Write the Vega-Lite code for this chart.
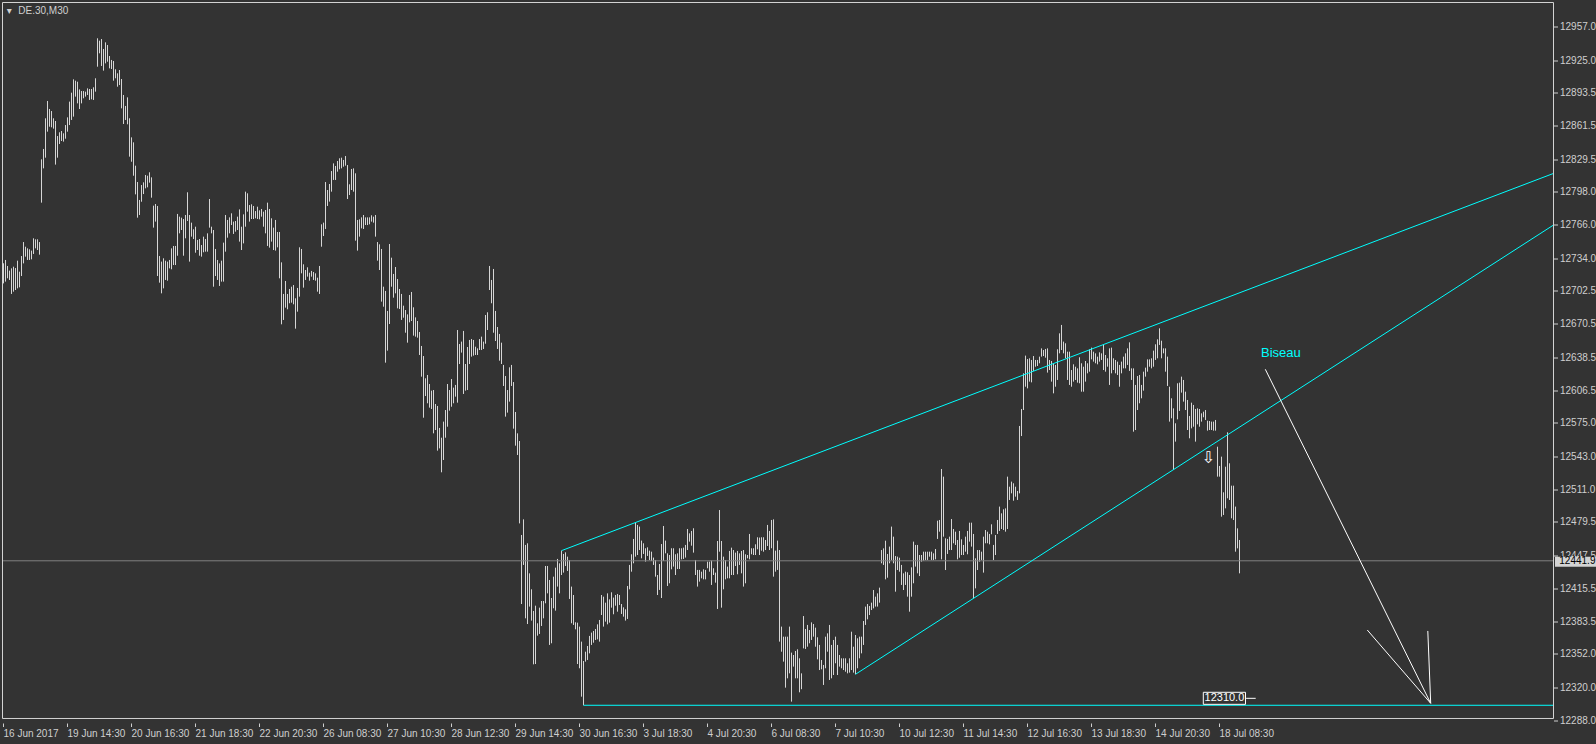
{
"$schema":"https://vega.github.io/schema/vega-lite/v6.json",
"width":1551,"height":720,
"autosize":"none",
"padding":{"left":2.5,"top":2.5,"right":42.5,"bottom":21.5},
"background":"#333333",
"view":{"stroke":null},
"config":{"font":"Liberation Sans","axis":{"labelOverlap":false,"labelFlush":false,"labelBound":false,"grid":false,"domain":false,"title":null,"labelFont":"Liberation Sans","labelFontSize":10,"labelColor":"#cfcfcf","tickColor":"#cfcfcf","tickWidth":1,"tickCount":100}},
"datasets":{
"bars":[
{"i":0,"h":12729,"l":12709.6},{"i":1,"h":12732.2,"l":12711.3},{"i":2,"h":12726.4,"l":12714.5},{"i":3,"h":12721.9,"l":12712.9},{"i":4,"h":12724.1,"l":12699.4},{"i":5,"h":12725.7,"l":12701.6},{"i":6,"h":12724.4,"l":12703.2},{"i":7,"h":12731.5,"l":12704.8},{"i":8,"h":12720.9,"l":12705.8},{"i":9,"h":12736,"l":12716.7},
{"i":10,"h":12749.5,"l":12728.9},{"i":11,"h":12745,"l":12735.4},{"i":12,"h":12743.4,"l":12732.2},{"i":13,"h":12742.5,"l":12732.2},{"i":14,"h":12741.2,"l":12732.8},{"i":15,"h":12753.1,"l":12738},{"i":16,"h":12752.1,"l":12743.4},{"i":17,"h":12752.1,"l":12741.8},{"i":18,"h":12749.5,"l":12737.3},{"i":19,"h":12829.3,"l":12787.5},
{"i":20,"h":12839.3,"l":12820.6},{"i":21,"h":12868.9,"l":12830.9},{"i":22,"h":12885.6,"l":12856},{"i":23,"h":12877.9,"l":12860.8},{"i":24,"h":12875.9,"l":12860.2},{"i":25,"h":12868.9,"l":12858.9},{"i":26,"h":12866.3,"l":12824.2},{"i":27,"h":12851.8,"l":12830.9},{"i":28,"h":12855.4,"l":12844.1},{"i":29,"h":12856.6,"l":12847},
{"i":30,"h":12854.4,"l":12846.4},{"i":31,"h":12862.4,"l":12849.2},{"i":32,"h":12869.8,"l":12856},{"i":33,"h":12885,"l":12862.4},{"i":34,"h":12893.6,"l":12867.3},{"i":35,"h":12906.5,"l":12870.5},{"i":36,"h":12905.2,"l":12889.8},{"i":37,"h":12904.2,"l":12883.3},{"i":38,"h":12896.8,"l":12877.9},{"i":39,"h":12895.2,"l":12883.3},
{"i":40,"h":12895.2,"l":12888.2},{"i":41,"h":12894.6,"l":12889.8},{"i":42,"h":12897.8,"l":12891.4},{"i":43,"h":12897.2,"l":12886.6},{"i":44,"h":12897.2,"l":12887.2},{"i":45,"h":12898.8,"l":12886.6},{"i":46,"h":12907.5,"l":12894.6},{"i":47,"h":12946.1,"l":12918.7},{"i":48,"h":12943.8,"l":12931.6},{"i":49,"h":12945.4,"l":12919.4},
{"i":50,"h":12935.8,"l":12914.9},{"i":51,"h":12942.2,"l":12921.9},{"i":52,"h":12939.6,"l":12923.5},{"i":53,"h":12929,"l":12917.1},{"i":54,"h":12925.2,"l":12916.5},{"i":55,"h":12924.2,"l":12905.2},{"i":56,"h":12916.2,"l":12907.5},{"i":57,"h":12912.3,"l":12899.4},{"i":58,"h":12915.5,"l":12901},{"i":59,"h":12906.8,"l":12878.5},
{"i":60,"h":12891.4,"l":12863.4},{"i":61,"h":12880.8,"l":12867.3},{"i":62,"h":12889.1,"l":12863.1},{"i":63,"h":12868.9,"l":12831.9},{"i":64,"h":12850.5,"l":12827},{"i":65,"h":12845.7,"l":12813.5},{"i":66,"h":12823.2,"l":12795.5},{"i":67,"h":12807.4,"l":12773},{"i":68,"h":12790.1,"l":12775.6},{"i":69,"h":12804.5,"l":12788.4},
{"i":70,"h":12807.1,"l":12795.8},{"i":71,"h":12814.2,"l":12801.3},{"i":72,"h":12813.5,"l":12802.3},{"i":73,"h":12816.8,"l":12806.8},{"i":74,"h":12811.9,"l":12792.3},{"i":75,"h":12784.6,"l":12763.4},{"i":76,"h":12786.2,"l":12769.2},{"i":77,"h":12784.3,"l":12716.7},{"i":78,"h":12736,"l":12710.3},{"i":79,"h":12730.6,"l":12700},
{"i":80,"h":12733.8,"l":12704.8},{"i":81,"h":12731.5,"l":12712.9},{"i":82,"h":12730.6,"l":12712.2},{"i":83,"h":12732.2,"l":12724.1},{"i":84,"h":12743.4,"l":12723.2},{"i":85,"h":12745.7,"l":12727.3},{"i":86,"h":12745.7,"l":12727.3},{"i":87,"h":12776.6,"l":12736.3},{"i":88,"h":12774,"l":12757.9},{"i":89,"h":12773,"l":12761.1},
{"i":90,"h":12771.7,"l":12736.3},{"i":91,"h":12775.6,"l":12753.1},{"i":92,"h":12797.5,"l":12769.8},{"i":93,"h":12775.6,"l":12730.6},{"i":94,"h":12768.2,"l":12754.7},{"i":95,"h":12761.8,"l":12752.4},{"i":96,"h":12764.3,"l":12739.2},{"i":97,"h":12751.5,"l":12741.8},{"i":98,"h":12752.4,"l":12736.3},{"i":99,"h":12746.6,"l":12735.4},
{"i":100,"h":12754.7,"l":12739.6},{"i":101,"h":12752.4,"l":12740.2},{"i":102,"h":12757.9,"l":12740.2},{"i":103,"h":12791,"l":12763.4},{"i":104,"h":12764.3,"l":12757.9},{"i":105,"h":12761.1,"l":12706.4},{"i":106,"h":12742.8,"l":12716.7},{"i":107,"h":12732.2,"l":12712.9},{"i":108,"h":12728.9,"l":12707.1},{"i":109,"h":12731.5,"l":12711.3},
{"i":110,"h":12748.9,"l":12711.3},{"i":111,"h":12775.6,"l":12740.2},{"i":112,"h":12770.8,"l":12753.7},{"i":113,"h":12773.3,"l":12757.9},{"i":114,"h":12777.2,"l":12765.9},{"i":115,"h":12769.2,"l":12757.3},{"i":116,"h":12769.8,"l":12759.5},{"i":117,"h":12774,"l":12761.1},{"i":118,"h":12781,"l":12749.9},{"i":119,"h":12764.3,"l":12741.8},
{"i":120,"h":12776.2,"l":12748.2},{"i":121,"h":12798.1,"l":12764.3},{"i":122,"h":12796.5,"l":12778.8},{"i":123,"h":12785.2,"l":12769.2},{"i":124,"h":12785.9,"l":12771.7},{"i":125,"h":12784.3,"l":12771.7},{"i":126,"h":12779.4,"l":12772.4},{"i":127,"h":12783.6,"l":12771.7},{"i":128,"h":12780.1,"l":12771.4},{"i":129,"h":12781.4,"l":12774},
{"i":130,"h":12778.8,"l":12764.3},{"i":131,"h":12780.4,"l":12757.9},{"i":132,"h":12787.5,"l":12745.7},{"i":133,"h":12781.4,"l":12744.1},{"i":134,"h":12772.4,"l":12749.9},{"i":135,"h":12763.4,"l":12741.8},{"i":136,"h":12770.8,"l":12741.2},{"i":137,"h":12759.2,"l":12744.4},{"i":138,"h":12759.2,"l":12714.5},{"i":139,"h":12729.9,"l":12670.1},
{"i":140,"h":12699.4,"l":12674.3},{"i":141,"h":12711.9,"l":12686.2},{"i":142,"h":12699.4,"l":12684.6},{"i":143,"h":12704.2,"l":12690.4},{"i":144,"h":12706.4,"l":12691},{"i":145,"h":12708,"l":12689.4},{"i":146,"h":12695.2,"l":12665.9},{"i":147,"h":12705.2,"l":12682.3},{"i":148,"h":12744.4,"l":12696.8},{"i":149,"h":12742.8,"l":12719.3},
{"i":150,"h":12728,"l":12705.5},{"i":151,"h":12722.5,"l":12712.9},{"i":152,"h":12725.1,"l":12716.1},{"i":153,"h":12719.9,"l":12712.2},{"i":154,"h":12721.6,"l":12716.1},{"i":155,"h":12720.6,"l":12712.9},{"i":156,"h":12719.3,"l":12712.2},{"i":157,"h":12715.1,"l":12701.6},{"i":158,"h":12726.4,"l":12699.4},{"i":159,"h":12766.6,"l":12745},
{"i":160,"h":12768.2,"l":12755.3},{"i":161,"h":12807.4,"l":12762.1},{"i":162,"h":12799.7,"l":12784.3},{"i":163,"h":12805.5,"l":12788.5},{"i":164,"h":12818,"l":12798.1},{"i":165,"h":12825.4,"l":12809.4},{"i":166,"h":12822.9,"l":12809.4},{"i":167,"h":12827.7,"l":12817.4},{"i":168,"h":12830.3,"l":12819.7},{"i":169,"h":12830.9,"l":12820.6},
{"i":170,"h":12828.7,"l":12822.2},{"i":171,"h":12832.5,"l":12823.2},{"i":172,"h":12823.8,"l":12791},{"i":173,"h":12805.2,"l":12794.9},{"i":174,"h":12820,"l":12799.7},{"i":175,"h":12820.6,"l":12798.1},{"i":176,"h":12815.8,"l":12750.8},{"i":177,"h":12770.8,"l":12741.2},{"i":178,"h":12771.4,"l":12754.7},{"i":179,"h":12773.3,"l":12762.7},
{"i":180,"h":12775.6,"l":12762.1},{"i":181,"h":12773.3,"l":12765.9},{"i":182,"h":12773.3,"l":12765.9},{"i":183,"h":12773.3,"l":12766.6},{"i":184,"h":12775.3,"l":12769.2},{"i":185,"h":12774,"l":12768.2},{"i":186,"h":12775.6,"l":12754.7},{"i":187,"h":12749.5,"l":12731.5},{"i":188,"h":12747.3,"l":12722.5},{"i":189,"h":12742.8,"l":12692},
{"i":190,"h":12706.4,"l":12687.1},{"i":191,"h":12702.3,"l":12633.1},{"i":192,"h":12683,"l":12644.7},{"i":193,"h":12747.6,"l":12670.4},{"i":194,"h":12734.4,"l":12706.4},{"i":195,"h":12718.7,"l":12695.8},{"i":196,"h":12725.4,"l":12700},{"i":197,"h":12713.8,"l":12685.5},{"i":198,"h":12704.2,"l":12684.9},{"i":199,"h":12699.4,"l":12674.3},
{"i":200,"h":12688.1,"l":12676.5},{"i":201,"h":12683.9,"l":12662},{"i":202,"h":12679.7,"l":12652.4},{"i":203,"h":12698.4,"l":12672},{"i":204,"h":12701.3,"l":12673.3},{"i":205,"h":12686.5,"l":12659.2},{"i":206,"h":12676.8,"l":12658.2},{"i":207,"h":12673.3,"l":12657.2},{"i":208,"h":12662.7,"l":12640.5},{"i":209,"h":12649.2,"l":12619.6},
{"i":210,"h":12639.5,"l":12580},{"i":211,"h":12618,"l":12600.9},{"i":212,"h":12621.2,"l":12593.9},{"i":213,"h":12612.5,"l":12589.7},{"i":214,"h":12606.1,"l":12588.4},{"i":215,"h":12606.7,"l":12564.9},{"i":216,"h":12593.2,"l":12568.1},{"i":217,"h":12591.3,"l":12548.2},{"i":218,"h":12570.1,"l":12550.4},{"i":219,"h":12560.7,"l":12527.3},
{"i":220,"h":12576.2,"l":12539.2},{"i":221,"h":12587.4,"l":12560.7},{"i":222,"h":12612.5,"l":12571.3},{"i":223,"h":12606.7,"l":12586.8},{"i":224,"h":12617.3,"l":12590.6},{"i":225,"h":12609,"l":12593.9},{"i":226,"h":12611.6,"l":12600.3},{"i":227,"h":12664.6,"l":12594.5},{"i":228,"h":12651.1,"l":12631.8},{"i":229,"h":12653.4,"l":12642.8},
{"i":230,"h":12663.7,"l":12602.9},{"i":231,"h":12631.8,"l":12606.1},{"i":232,"h":12648.2,"l":12606.7},{"i":233,"h":12655,"l":12631.8},{"i":234,"h":12655.9,"l":12638.9},{"i":235,"h":12655,"l":12639.9},{"i":236,"h":12648.5,"l":12640.5},{"i":237,"h":12646.9,"l":12640.5},{"i":238,"h":12655.9,"l":12645.3},{"i":239,"h":12658.2,"l":12645.3},
{"i":240,"h":12653.4,"l":12646.3},{"i":241,"h":12679.1,"l":12651.4},{"i":242,"h":12681.7,"l":12664.6},{"i":243,"h":12726.4,"l":12703.2},{"i":244,"h":12712.9,"l":12690.4},{"i":245,"h":12723.5,"l":12662},{"i":246,"h":12683,"l":12654},{"i":247,"h":12667.5,"l":12646.3},{"i":248,"h":12660.8,"l":12635},{"i":249,"h":12652.4,"l":12631.8},
{"i":250,"h":12630.9,"l":12610.6},{"i":251,"h":12620.2,"l":12581},{"i":252,"h":12606.7,"l":12584.9},{"i":253,"h":12628.6,"l":12595.5},{"i":254,"h":12630.9,"l":12610.6},{"i":255,"h":12614.4,"l":12569.4},{"i":256,"h":12585.5,"l":12553},{"i":257,"h":12564.9,"l":12544},{"i":258,"h":12557.5,"l":12478},{"i":259,"h":12466.8,"l":12400.2},
{"i":260,"h":12481.9,"l":12437.9},{"i":261,"h":12457.2,"l":12386.4},{"i":262,"h":12458.8,"l":12380.9},{"i":263,"h":12429.8,"l":12397.7},{"i":264,"h":12414.4,"l":12384.2},{"i":265,"h":12393.5,"l":12342},{"i":266,"h":12398.6,"l":12342.3},{"i":267,"h":12381.6,"l":12369.7},{"i":268,"h":12396.7,"l":12371.3},{"i":269,"h":12403.1,"l":12379},
{"i":270,"h":12403.1,"l":12386.4},{"i":271,"h":12436.9,"l":12400.9},{"i":272,"h":12436.9,"l":12410.5},{"i":273,"h":12423.4,"l":12360.7},{"i":274,"h":12406,"l":12362.3},{"i":275,"h":12426.6,"l":12396.1},{"i":276,"h":12435.3,"l":12393.8},{"i":277,"h":12443.7,"l":12417},{"i":278,"h":12439.5,"l":12410.5},{"i":279,"h":12451.7,"l":12428.2},
{"i":280,"h":12448.5,"l":12430.5},{"i":281,"h":12450.1,"l":12436.9},{"i":282,"h":12445.9,"l":12432.1},{"i":283,"h":12442.7,"l":12405.1},{"i":284,"h":12417,"l":12381.6},{"i":285,"h":12408.9,"l":12380},{"i":286,"h":12382.6,"l":12375.8},{"i":287,"h":12382.2,"l":12342.3},{"i":288,"h":12378.4,"l":12338.2},{"i":289,"h":12363.9,"l":12310.8},
{"i":290,"h":12345.2,"l":12302.5},{"i":291,"h":12354.2,"l":12344.6},{"i":292,"h":12359.7,"l":12346.2},{"i":293,"h":12369.4,"l":12352.6},{"i":294,"h":12372.6,"l":12360.7},{"i":295,"h":12374.2,"l":12362.9},{"i":296,"h":12376.1,"l":12365.5},{"i":297,"h":12380.6,"l":12366.1},{"i":298,"h":12384.8,"l":12363.9},{"i":299,"h":12408.9,"l":12389.6},
{"i":300,"h":12407.3,"l":12378.4},{"i":301,"h":12401.5,"l":12383.2},{"i":302,"h":12410.5,"l":12380.6},{"i":303,"h":12404.7,"l":12382.2},{"i":304,"h":12411.5,"l":12396.7},{"i":305,"h":12406.4,"l":12390.3},{"i":306,"h":12408.9,"l":12398.6},{"i":307,"h":12409.9,"l":12392.8},{"i":308,"h":12408.9,"l":12399.3},{"i":309,"h":12400.2,"l":12390.6},
{"i":310,"h":12397,"l":12388},{"i":311,"h":12395.1,"l":12384.2},{"i":312,"h":12417.6,"l":12385.8},{"i":313,"h":12437.9,"l":12414.4},{"i":314,"h":12448.2,"l":12431.4},{"i":315,"h":12463,"l":12439.5},{"i":316,"h":12478.7,"l":12445.9},{"i":317,"h":12476.5,"l":12447.5},{"i":318,"h":12474.9,"l":12452.3},{"i":319,"h":12461.4,"l":12444.3},
{"i":320,"h":12458.8,"l":12448.5},{"i":321,"h":12454,"l":12441.1},{"i":322,"h":12454.9,"l":12446.6},{"i":323,"h":12451.7,"l":12442.7},{"i":324,"h":12450.7,"l":12441.7},{"i":325,"h":12445,"l":12437.9},{"i":326,"h":12442.7,"l":12426.6},{"i":327,"h":12428.2,"l":12408.9},{"i":328,"h":12438.8,"l":12413.8},{"i":329,"h":12458.1,"l":12406},
{"i":330,"h":12475.5,"l":12441.7},{"i":331,"h":12461.4,"l":12449.1},{"i":332,"h":12449.1,"l":12417.6},{"i":333,"h":12447.5,"l":12420.2},{"i":334,"h":12454,"l":12433.7},{"i":335,"h":12454,"l":12436.3},{"i":336,"h":12448.2,"l":12428.2},{"i":337,"h":12449.1,"l":12434},{"i":338,"h":12454,"l":12434},{"i":339,"h":12454,"l":12443.3},
{"i":340,"h":12454.6,"l":12443.7},{"i":341,"h":12457.2,"l":12445},{"i":342,"h":12472.6,"l":12452.3},{"i":343,"h":12468.4,"l":12460.4},{"i":344,"h":12470.7,"l":12456.5},{"i":345,"h":12473.3,"l":12449.8},{"i":346,"h":12442.7,"l":12428.2},{"i":347,"h":12433.1,"l":12417},{"i":348,"h":12433.1,"l":12421.8},{"i":349,"h":12431.4,"l":12425},
{"i":350,"h":12433.7,"l":12424},{"i":351,"h":12433.1,"l":12424},{"i":352,"h":12441.1,"l":12434.7},{"i":353,"h":12441.1,"l":12431.4},{"i":354,"h":12442.1,"l":12418.6},{"i":355,"h":12434.7,"l":12428.2},{"i":356,"h":12430.5,"l":12420.8},{"i":357,"h":12461,"l":12395.4},{"i":358,"h":12490.9,"l":12450.7},{"i":359,"h":12461,"l":12396.7},
{"i":360,"h":12445.9,"l":12414.4},{"i":361,"h":12442.7,"l":12424},{"i":362,"h":12436.3,"l":12425},{"i":363,"h":12451.4,"l":12425},{"i":364,"h":12454.6,"l":12428.2},{"i":365,"h":12452.3,"l":12428.2},{"i":366,"h":12449.8,"l":12436.9},{"i":367,"h":12451.4,"l":12428.9},{"i":368,"h":12449.1,"l":12437.9},{"i":369,"h":12451.4,"l":12429.8},
{"i":370,"h":12452.3,"l":12417},{"i":371,"h":12448.2,"l":12420.2},{"i":372,"h":12447.5,"l":12444.3},{"i":373,"h":12467.8,"l":12443.3},{"i":374,"h":12454,"l":12448.2},{"i":375,"h":12454,"l":12447.5},{"i":376,"h":12457.8,"l":12447.5},{"i":377,"h":12464.6,"l":12453},{"i":378,"h":12464.3,"l":12447.5},{"i":379,"h":12464.6,"l":12451.7},
{"i":380,"h":12464.6,"l":12450.7},{"i":381,"h":12462,"l":12452.3},{"i":382,"h":12476.5,"l":12456.2},{"i":383,"h":12470.7,"l":12452.3},{"i":384,"h":12481.3,"l":12454},{"i":385,"h":12481.9,"l":12426.6},{"i":386,"h":12451.7,"l":12431.4},{"i":387,"h":12461.4,"l":12433.1},{"i":388,"h":12452.3,"l":12363.9},{"i":389,"h":12378.4,"l":12354.2},
{"i":390,"h":12368.7,"l":12344.6},{"i":391,"h":12368.7,"l":12319.5},{"i":392,"h":12368.7,"l":12328.5},{"i":393,"h":12378.4,"l":12333.3},{"i":394,"h":12353.3,"l":12306},{"i":395,"h":12351,"l":12339.8},{"i":396,"h":12354.9,"l":12328.5},{"i":397,"h":12356.5,"l":12328.5},{"i":398,"h":12347.8,"l":12315},{"i":399,"h":12333.3,"l":12318},
{"i":400,"h":12388.6,"l":12357.4},{"i":401,"h":12376.1,"l":12356.8},{"i":402,"h":12380,"l":12359},{"i":403,"h":12375.1,"l":12362.3},{"i":404,"h":12382.5,"l":12365.5},{"i":405,"h":12380.9,"l":12368.7},{"i":406,"h":12377.4,"l":12359},{"i":407,"h":12368.1,"l":12346.8},{"i":408,"h":12360.7,"l":12336.5},{"i":409,"h":12346.2,"l":12337.2},
{"i":410,"h":12341.4,"l":12322.1},{"i":411,"h":12368.7,"l":12338.2},{"i":412,"h":12371.9,"l":12354.2},{"i":413,"h":12380,"l":12326.9},{"i":414,"h":12360.7,"l":12328.5},{"i":415,"h":12365.5,"l":12331.7},{"i":416,"h":12368.7,"l":12343},{"i":417,"h":12360.7,"l":12331.7},{"i":418,"h":12351,"l":12339.8},{"i":419,"h":12347.8,"l":12338.2},
{"i":420,"h":12347.8,"l":12336.5},{"i":421,"h":12347.8,"l":12334.9},{"i":422,"h":12343,"l":12333.3},{"i":423,"h":12347.8,"l":12334},{"i":424,"h":12373.5,"l":12336.5},{"i":425,"h":12359,"l":12334},{"i":426,"h":12370.3,"l":12332.4},{"i":427,"h":12367.1,"l":12338.2},{"i":428,"h":12368.7,"l":12347.8},{"i":429,"h":12368.7,"l":12352.6},
{"i":430,"h":12383.8,"l":12360.7},{"i":431,"h":12397.7,"l":12380},{"i":432,"h":12400.2,"l":12385.4},{"i":433,"h":12398.3,"l":12389.6},{"i":434,"h":12401.5,"l":12394.4},{"i":435,"h":12413.7,"l":12396},{"i":436,"h":12407.3,"l":12397.7},{"i":437,"h":12410.5,"l":12397.7},{"i":438,"h":12416,"l":12401.5},{"i":439,"h":12452.3,"l":12439.5},
{"i":440,"h":12453.9,"l":12437.9},{"i":441,"h":12461.3,"l":12424},{"i":442,"h":12448.5,"l":12425.6},{"i":443,"h":12455.6,"l":12439.5},{"i":444,"h":12474.9,"l":12442.7},{"i":445,"h":12465.2,"l":12439.5},{"i":446,"h":12446.5,"l":12412.1},{"i":447,"h":12445.9,"l":12433},{"i":448,"h":12444.9,"l":12431.4},{"i":449,"h":12437.9,"l":12418.6},
{"i":450,"h":12429.8,"l":12413.7},{"i":451,"h":12431.4,"l":12418.6},{"i":452,"h":12430.8,"l":12407.3},{"i":453,"h":12428.2,"l":12392.8},{"i":454,"h":12435.6,"l":12407.3},{"i":455,"h":12460.4,"l":12420.2},{"i":456,"h":12457.2,"l":12436.3},{"i":457,"h":12457.2,"l":12429.8},{"i":458,"h":12447.5,"l":12427.2},{"i":459,"h":12447.5,"l":12441.1},
{"i":460,"h":12450.7,"l":12442},{"i":461,"h":12450.7,"l":12442.7},{"i":462,"h":12450.7,"l":12442.7},{"i":463,"h":12450.7,"l":12445.9},{"i":464,"h":12450.7,"l":12442.7},{"i":465,"h":12449.1,"l":12442.7},{"i":466,"h":12453.3,"l":12443.3},{"i":467,"h":12480.6,"l":12463},{"i":468,"h":12481.3,"l":12470},{"i":469,"h":12530.5,"l":12443.3},
{"i":470,"h":12523.1,"l":12465.2},{"i":471,"h":12463.6,"l":12433},{"i":472,"h":12463,"l":12448.5},{"i":473,"h":12465.2,"l":12452.3},{"i":474,"h":12482.2,"l":12452.3},{"i":475,"h":12472.6,"l":12458.8},{"i":476,"h":12470,"l":12457.2},{"i":477,"h":12462,"l":12443.3},{"i":478,"h":12470.7,"l":12444.9},{"i":479,"h":12462.6,"l":12447.5},
{"i":480,"h":12457.2,"l":12447.5},{"i":481,"h":12465.2,"l":12450.7},{"i":482,"h":12470.7,"l":12448.2},{"i":483,"h":12478.7,"l":12460.4},{"i":484,"h":12478.7,"l":12455.6},{"i":485,"h":12467.8,"l":12405.7},{"i":486,"h":12444.3,"l":12415.3},{"i":487,"h":12452.3,"l":12433},{"i":488,"h":12452.3,"l":12441.1},{"i":489,"h":12450.7,"l":12442.7},
{"i":490,"h":12465.2,"l":12430.5},{"i":491,"h":12471.6,"l":12458.8},{"i":492,"h":12470,"l":12458.8},{"i":493,"h":12467.8,"l":12457.8},{"i":494,"h":12477.1,"l":12467.5},{"i":495,"h":12457.2,"l":12442.7},{"i":496,"h":12466.8,"l":12447.5},{"i":497,"h":12481.3,"l":12467.8},{"i":498,"h":12494.2,"l":12470.7},{"i":499,"h":12487.7,"l":12472.6},
{"i":500,"h":12491.6,"l":12471.6},{"i":501,"h":12492.5,"l":12470},{"i":502,"h":12523.1,"l":12472.6},{"i":503,"h":12513.4,"l":12500.6},{"i":504,"h":12518.3,"l":12507},{"i":505,"h":12516.7,"l":12499.9},{"i":506,"h":12513.4,"l":12503.8},{"i":507,"h":12509.3,"l":12500.6},{"i":508,"h":12572,"l":12507},{"i":509,"h":12588.4,"l":12562.3},
{"i":510,"h":12622.8,"l":12587.4},{"i":511,"h":12639.9,"l":12609.9},{"i":512,"h":12636.6,"l":12608.3},{"i":513,"h":12637.3,"l":12614.8},{"i":514,"h":12635.7,"l":12614.1},{"i":515,"h":12639.5,"l":12625.1},{"i":516,"h":12635.7,"l":12629.2},{"i":517,"h":12635.7,"l":12629.9},{"i":518,"h":12638.9,"l":12632.5},{"i":519,"h":12646.9,"l":12638.9},
{"i":520,"h":12645.3,"l":12639.5},{"i":521,"h":12646.3,"l":12637.9},{"i":522,"h":12646.9,"l":12623.5},{"i":523,"h":12635.7,"l":12626},{"i":524,"h":12634.7,"l":12614.8},{"i":525,"h":12632.5,"l":12603.5},{"i":526,"h":12630.9,"l":12609.9},{"i":527,"h":12646,"l":12616.4},{"i":528,"h":12661.4,"l":12642.1},{"i":529,"h":12669.5,"l":12645.3},
{"i":530,"h":12653.4,"l":12642.1},{"i":531,"h":12651.8,"l":12637.3},{"i":532,"h":12643.7,"l":12616.4},{"i":533,"h":12643.7,"l":12611.6},{"i":534,"h":12626,"l":12609.9},{"i":535,"h":12631.5,"l":12614.8},{"i":536,"h":12629.2,"l":12616.4},{"i":537,"h":12627.6,"l":12613.8},{"i":538,"h":12638.3,"l":12613.2},{"i":539,"h":12632.5,"l":12605.1},
{"i":540,"h":12629.2,"l":12605.1},{"i":541,"h":12634.7,"l":12614.8},{"i":542,"h":12632.5,"l":12622.8},{"i":543,"h":12646,"l":12624.4},{"i":544,"h":12647.6,"l":12636.3},{"i":545,"h":12643.7,"l":12634.1},{"i":546,"h":12642.1,"l":12632.5},{"i":547,"h":12638.9,"l":12631.5},{"i":548,"h":12643.1,"l":12634.1},{"i":549,"h":12642.1,"l":12635.7},
{"i":550,"h":12650.8,"l":12626},{"i":551,"h":12640.5,"l":12624.4},{"i":552,"h":12637.3,"l":12629.2},{"i":553,"h":12646.9,"l":12611.6},{"i":554,"h":12647.6,"l":12622.8},{"i":555,"h":12637.3,"l":12626},{"i":556,"h":12635.7,"l":12622.8},{"i":557,"h":12634.1,"l":12621.2},{"i":558,"h":12630.9,"l":12609.9},{"i":559,"h":12634.1,"l":12622.8},
{"i":560,"h":12638.9,"l":12627.6},{"i":561,"h":12642.1,"l":12627.6},{"i":562,"h":12646.9,"l":12630.9},{"i":563,"h":12652.7,"l":12625.1},{"i":564,"h":12627.6,"l":12616.4},{"i":565,"h":12627.6,"l":12566.5},{"i":566,"h":12611.6,"l":12568.1},{"i":567,"h":12620.2,"l":12587.4},{"i":568,"h":12621.2,"l":12593.9},{"i":569,"h":12611.6,"l":12598.7},
{"i":570,"h":12624.4,"l":12606.1},{"i":571,"h":12628.3,"l":12619.6},{"i":572,"h":12636.3,"l":12624.4},{"i":573,"h":12636.3,"l":12629.2},{"i":574,"h":12637.3,"l":12627.6},{"i":575,"h":12644.7,"l":12629.2},{"i":576,"h":12650.8,"l":12635.7},{"i":577,"h":12655.6,"l":12637.3},{"i":578,"h":12666.2,"l":12650.2},{"i":579,"h":12654.3,"l":12637.3},
{"i":580,"h":12646.9,"l":12642.1},{"i":581,"h":12646.9,"l":12624.4},{"i":582,"h":12638.9,"l":12610.6},{"i":583,"h":12609.9,"l":12576.2},{"i":584,"h":12598.7,"l":12579.4},{"i":585,"h":12589,"l":12529.5},{"i":586,"h":12574.6,"l":12556.9},{"i":587,"h":12613.2,"l":12578.4},{"i":588,"h":12613.8,"l":12586.5},{"i":589,"h":12619.6,"l":12604.2},
{"i":590,"h":12616.4,"l":12595.5},{"i":591,"h":12605.1,"l":12587.4},{"i":592,"h":12597.1,"l":12568.1},{"i":593,"h":12581.6,"l":12560.1},{"i":594,"h":12594.5,"l":12569.7},{"i":595,"h":12592.3,"l":12571.3},{"i":596,"h":12588.4,"l":12556.9},{"i":597,"h":12589,"l":12573.6},{"i":598,"h":12588.4,"l":12571.3},{"i":599,"h":12584.2,"l":12576.2},
{"i":600,"h":12585.8,"l":12580.4},{"i":601,"h":12587.4,"l":12577.8},{"i":602,"h":12577.1,"l":12567.5},{"i":603,"h":12576.8,"l":12568.1},{"i":604,"h":12576.2,"l":12568.1},{"i":605,"h":12576.2,"l":12567.5},{"i":606,"h":12577.8,"l":12567.5},{"i":607,"h":12552,"l":12523.1},{"i":608,"h":12533.4,"l":12523.1},{"i":609,"h":12542.4,"l":12484.5},
{"i":610,"h":12508,"l":12486.1},{"i":611,"h":12532.7,"l":12492.5},{"i":612,"h":12565.9,"l":12502.2},{"i":613,"h":12536,"l":12500.6},{"i":614,"h":12514.4,"l":12482.9},{"i":615,"h":12514.4,"l":12481.3},{"i":616,"h":12494.2,"l":12450.7},{"i":617,"h":12473.2,"l":12453.9},{"i":618,"h":12462,"l":12429.8}
],
"trend":[
{"s":"upper","i":279,"p":12451.7},{"s":"upper","i":775,"p":12815.7},
{"s":"lower","i":426,"p":12332.4},{"s":"lower","i":775,"p":12765.9},
{"s":"support","i":290,"p":12302.5},{"s":"support","i":775,"p":12302.5}
],
"arrows":[
{"s":"shaft","i":630.9,"p":12626.7},{"s":"shaft","i":713.6,"p":12304.4},
{"s":"headL","i":681.9,"p":12375.1},{"s":"headL","i":713.6,"p":12304.4},
{"s":"headR","i":712.15,"p":12374.2},{"s":"headR","i":713.6,"p":12304.4}
],
"notes":[{"t":"Biseau","i":628.75,"p":12638.3}],
"signal":[{"t":"⇩","i":602.4,"p":12540.8}],
"plabel":[{"t":"12310.0","i":610.45,"p":12309.2,"i0":599.9,"i1":621.0,"p0":12303.4,"p1":12315.0,"k0":621.3,"k1":626.1}],
"bid":[{"t":"12441.9","p":12441.9}],
"symbol":[{"t":"DE.30,M30","i":7.4,"p":12969.25,"m":"▾","mi":2.9}]
},
"layer":[
{"data":{"name":"bars"},"mark":{"type":"rule","color":"#d6d6d6","strokeWidth":1},
 "encoding":{
  "x":{"field":"i","type":"quantitative","scale":{"domain":[-0.5,775],"nice":false,"zero":false},
   "axis":{"orient":"bottom","values":[0,32,64,96,128,160,192,224,256,288,320,352,384,416,448,480,512,544,576,608],
    "labelExpr":"['16 Jun 2017','19 Jun 14:30','20 Jun 16:30','21 Jun 18:30','22 Jun 20:30','26 Jun 08:30','27 Jun 10:30','28 Jun 12:30','29 Jun 14:30','30 Jun 16:30','3 Jul 18:30','4 Jul 20:30','6 Jul 08:30','7 Jul 10:30','10 Jul 12:30','11 Jul 14:30','12 Jul 16:30','13 Jul 18:30','14 Jul 20:30','18 Jul 08:30'][datum.value/32]",
    "ticks":true,"tickSize":3.5,"offset":1,"translate":0,"tickCount":100,
    "labelAlign":"left","labelBaseline":"top","labelPadding":1.5,"labelOverlap":false,"title":null}},
  "y":{"field":"h","type":"quantitative","scale":{"domain":[12285.87,12980.64],"nice":false,"zero":false},
   "axis":{"orient":"right","values":[12957,12925,12893.5,12861.5,12829.5,12798,12766,12734,12702.5,12670.5,12638.5,12606.5,12575,12543,12511,12479.5,12447.5,12415.5,12383.5,12352,12320,12288],
    "format":".1f","tickSize":4,"tickCount":100,"labelPadding":2,"labelBaseline":"middle","labelAlign":"left","labelOverlap":false,"title":null}},
  "y2":{"field":"l"}}},
{"data":{"name":"bid"},"mark":{"type":"rule","color":"#808080","strokeWidth":1},
 "encoding":{"y":{"field":"p","type":"quantitative"}}},
{"data":{"name":"bid"},"mark":{"type":"rect","color":"#d3d3d3"},
 "encoding":{"x":{"datum":775.75,"type":"quantitative"},"x2":{"datum":796.25},
  "y":{"datum":12436.2,"type":"quantitative"},"y2":{"datum":12445.9}}},
{"data":{"name":"bid"},"mark":{"type":"text","color":"#000000","font":"Liberation Sans","fontSize":10,"align":"left","baseline":"middle"},
 "encoding":{"x":{"datum":777.9,"type":"quantitative"},"y":{"field":"p","type":"quantitative"},"text":{"field":"t"}}},
{"data":{"name":"trend"},"mark":{"type":"line","color":"#00ffff","strokeWidth":1},
 "encoding":{"x":{"field":"i","type":"quantitative"},"y":{"field":"p","type":"quantitative"},"detail":{"field":"s"}}},
{"data":{"name":"arrows"},"mark":{"type":"line","color":"#ffffff","strokeWidth":1},
 "encoding":{"x":{"field":"i","type":"quantitative"},"y":{"field":"p","type":"quantitative"},"detail":{"field":"s"}}},
{"data":{"name":"notes"},"mark":{"type":"text","color":"#00ffff","font":"Liberation Sans","fontSize":13,"align":"left","baseline":"alphabetic"},
 "encoding":{"x":{"field":"i","type":"quantitative"},"y":{"field":"p","type":"quantitative"},"text":{"field":"t"}}},
{"data":{"name":"signal"},"mark":{"type":"text","color":"#ffffff","font":"DejaVu Sans","fontSize":16,"align":"center","baseline":"middle"},
 "encoding":{"x":{"field":"i","type":"quantitative"},"y":{"field":"p","type":"quantitative"},"text":{"field":"t"}}},
{"data":{"name":"plabel"},"mark":{"type":"rect","fill":"#333333","stroke":"#ffffff","strokeWidth":1},
 "encoding":{"x":{"field":"i0","type":"quantitative"},"x2":{"field":"i1"},"y":{"field":"p0","type":"quantitative"},"y2":{"field":"p1"}}},
{"data":{"name":"plabel"},"mark":{"type":"rule","color":"#ffffff","strokeWidth":1},
 "encoding":{"x":{"field":"k0","type":"quantitative"},"x2":{"field":"k1"},"y":{"field":"p","type":"quantitative"}}},
{"data":{"name":"plabel"},"mark":{"type":"text","color":"#ffffff","font":"Liberation Sans","fontSize":11,"align":"center","baseline":"middle"},
 "encoding":{"x":{"field":"i","type":"quantitative"},"y":{"field":"p","type":"quantitative"},"text":{"field":"t"}}},
{"data":{"name":"symbol"},"mark":{"type":"text","color":"#d0d0d0","font":"Liberation Sans","fontSize":10,"align":"left","baseline":"alphabetic"},
 "encoding":{"x":{"field":"i","type":"quantitative"},"y":{"field":"p","type":"quantitative"},"text":{"field":"t"}}},
{"data":{"name":"symbol"},"mark":{"type":"text","color":"#d0d0d0","font":"DejaVu Sans","fontSize":10,"align":"center","baseline":"alphabetic"},
 "encoding":{"x":{"field":"mi","type":"quantitative"},"y":{"field":"p","type":"quantitative"},"text":{"field":"m"}}},
{"data":{"values":[{"frame":"plot"}]},"mark":{"type":"rect","fill":null,"stroke":"#d3d3d3","strokeWidth":1},
 "encoding":{"x":{"datum":-0.5,"type":"quantitative"},"x2":{"datum":775},"y":{"datum":12289.73,"type":"quantitative"},"y2":{"datum":12980.64}}}
]
}
